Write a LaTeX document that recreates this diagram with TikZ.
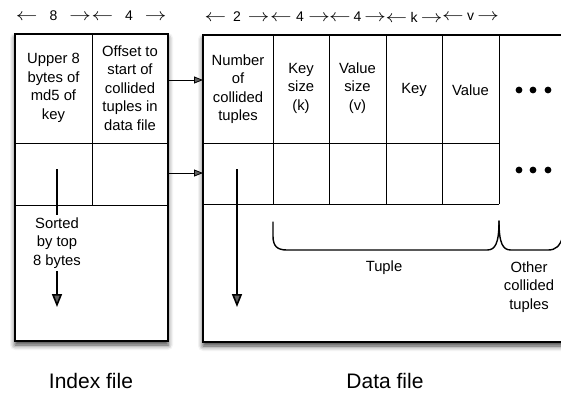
\documentclass[tikz,border=0pt]{standalone}
\usepackage{fontspec}
\setmainfont{Liberation Sans}
\usetikzlibrary{arrows.meta, positioning, calc, shadows.blur}
\tikzset{
    filebox/.style={draw, line width=1.2pt, fill=white,
        blur shadow={shadow xshift=0pt, shadow yshift=-4pt, shadow blur radius=5pt, shadow opacity=75}},
    grid/.style={line width=0.8pt},
    cell/.style={align=center, inner sep=0pt, font=\fontsize{14.8}{18.5}\selectfont},
    sizelabel/.style={inner sep=0pt, font=\fontsize{14}{16}\selectfont},
    link/.style={-{Triangle[length=9pt, width=7pt]}, line width=0.8pt},
    order/.style={-{Triangle[length=13pt, width=10pt]}, line width=1.6pt},
    brace/.style={line width=1.4pt, line cap=round},
    caption/.style={font=\fontsize{21}{24}\selectfont}
}
\newcommand{\spanlabel}[2]{\makebox[#1]{\scalebox{1.5}[1.2]{$\leftarrow$}\hfill#2\hfill\scalebox{1.5}[1.2]{$\rightarrow$}}}

\begin{document}
\begin{tikzpicture}[x=1pt, y=-1pt]
    \useasboundingbox (0,0) rectangle (561,392);
    % Boxes
    \draw[filebox] (15,34) rectangle (168,341);
    \draw[filebox] (203,35) rectangle (590,342);
    % Index file cells
    \draw[grid] (15,143) -- (168,143);
    \draw[grid] (15,205) -- (168,205);
    \draw[grid] (92,34) -- (92,205);
    % Data file cells
    \draw[grid] (203,143) -- (499,143);
    \draw[grid] (203,204) -- (499,204);
    \foreach \x in {273, 329, 386, 442, 499}
        \draw[grid] (\x,35) -- (\x,204);
    % Field widths
    \node[sizelabel] (w8) at (53.5,16) {\spanlabel{75pt}{8}};
    \node[sizelabel] (w4) at (129,16) {\spanlabel{75pt}{4}};
    \node[sizelabel] (w2) at (237,17) {\spanlabel{65pt}{2}};
    \node[sizelabel] (wks) at (300,17) {\spanlabel{60pt}{4}};
    \node[sizelabel] (wvs) at (357.5,17) {\spanlabel{57pt}{4}};
    \node[sizelabel] (wk) at (414,17) {\spanlabel{57pt}{k}};
    \node[sizelabel] (wv) at (470.5,17) {\spanlabel{57pt}{v}};
    % Field names
    \node[cell] (upper) at (53.5,88) {Upper 8\\bytes of\\md5 of\\key};
    \node[cell] (offset) at (130,88) {Offset to\\start of\\collided\\tuples in\\data file};
    \node[cell] (count) at (238,89) {Number\\of\\collided\\tuples};
    \node[cell] (keysize) at (301,88) {Key\\size\\(k)};
    \node[cell] (valsize) at (357.5,88) {Value\\size\\(v)};
    \node[cell] (key) at (414,90) {Key};
    \node[cell] (value) at (470.5,90) {Value};
    % More tuples
    \foreach \x in {519, 533, 548} {
        \fill (\x,90) circle (3.4pt);
        \fill (\x,170) circle (3.4pt);
    }
    % Offsets into data file
    \coordinate (out1) at (168,80);
    \coordinate (in1) at (203,80);
    \coordinate (out2) at (168,173);
    \coordinate (in2) at (203,173);
    \draw[link] (out1) -- (in1);
    \draw[link] (out2) -- (in2);
    % Ordering
    \coordinate (sorttop) at (57,169);
    \coordinate (sortend) at (57,307);
    \draw[order] (sorttop) -- (sortend);
    \node[cell, fill=white, inner sep=3pt] (sorted) at (57,243) {Sorted\\by top\\8 bytes};
    \coordinate (datatop) at (237,169);
    \coordinate (dataend) at (237,307);
    \draw[order] (datatop) -- (dataend);
    % Braces
    \draw[brace] (273,222) -- (273,236) .. controls (273,246) and (277,250) .. (287,250)
        -- (487,250) .. controls (495,250) and (499,244) .. (499,221);
    \draw[brace] (499,221) .. controls (499,244) and (503,250) .. (511,250)
        -- (548,250) .. controls (556,250) and (560,246) .. (563,236);
    \node[cell] (tuple) at (384,268) {Tuple};
    \node[cell] (others) at (529,287) {Other\\collided\\tuples};
    % Captions
    \node[caption] (indexcap) at (91,381) {Index file};
    \node[caption] (datacap) at (385,381) {Data file};
\end{tikzpicture}
\end{document}
